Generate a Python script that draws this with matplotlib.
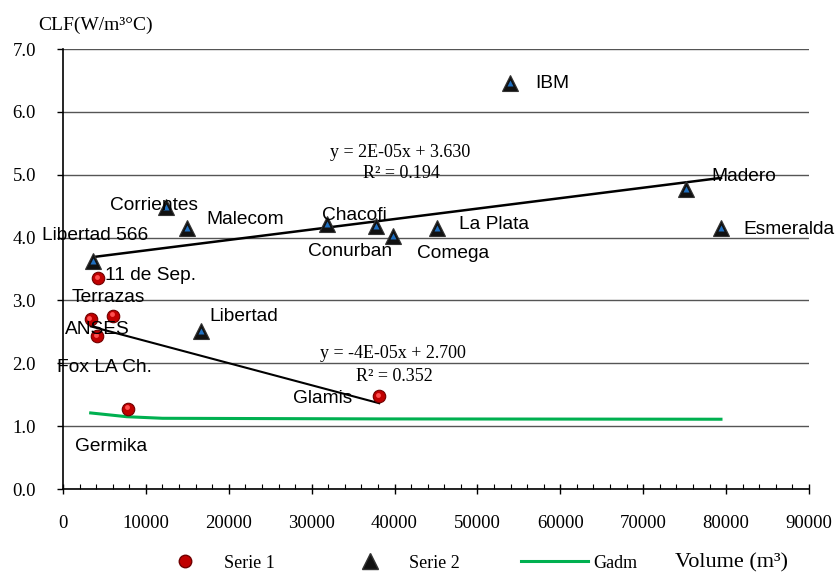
import numpy as np
import matplotlib
matplotlib.use("Agg")
import matplotlib.pyplot as plt
import matplotlib.transforms as mtransforms
from matplotlib.lines import Line2D
from matplotlib.ticker import MultipleLocator, FormatStrFormatter

plt.rcParams['font.family'] = ['Liberation Serif', 'DejaVu Serif']

# Serie 1 (red spheres)
s1_x = [4260, 6070, 3340, 4140, 7880, 38150]
s1_y = [3.35, 2.75, 2.70, 2.43, 1.28, 1.476]

# Serie 2 (triangles)
s2_x = [3660, 12425, 14920, 16610, 31850, 37820, 39870, 45130, 53920, 75160, 79380]
s2_y = [3.63, 4.48, 4.16, 2.52, 4.22, 4.19, 4.02, 4.15, 6.465, 4.77, 4.15]

# Gadm curve
gadm_x = [3340, 7700, 12000, 38150, 79380]
gadm_y = [1.21, 1.15, 1.125, 1.115, 1.11]

# building names
names = ["Libertad 566", "11 de Sep.", "Terrazas", "ANSES", "Fox LA Ch.", "Germika",
         "Glamis", "Libertad", "Corrientes", "Malecom", "Chacofi", "Conurban",
         "Comega", "La Plata", "Madero", "Esmeralda", "IBM"]
name_x = [-2530, 5070, 1050, 240, -690, 1450, 27710, 17650, 5610, 17340, 31260,
          29550, 42680, 47810, 78180, 82110, 56940]
name_y = [4.07, 3.43, 3.08, 2.57, 1.97, 0.71, 1.465, 2.78, 4.545, 4.32, 4.39,
          3.81, 3.78, 4.235, 5.006, 4.165, 6.48]

eq_text = ["y = 2E-05x + 3.630", "R² = 0.194", "y = -4E-05x + 2.700", "R² = 0.352"]
eq_x = [40660, 40780, 39830, 39950]
eq_y = [5.39, 5.05, 2.18, 1.825]

fig = plt.figure(figsize=(8.39, 5.75), dpi=100)
ax = fig.add_axes([63/839, 86/575, 746/839, 440/575])

ax.set_xlim(0, 90000)
ax.set_ylim(0, 7)
ax.xaxis.set_major_locator(MultipleLocator(10000))
ax.xaxis.set_minor_locator(MultipleLocator(2000))
ax.yaxis.set_major_locator(MultipleLocator(1))
ax.yaxis.set_major_formatter(FormatStrFormatter('%.1f'))
ax.grid(axis='y', color='#555555', lw=1.0, zorder=0)
ax.set_axisbelow(True)
for s in ['top', 'right']:
    ax.spines[s].set_visible(False)
ax.spines['left'].set_linewidth(1.2)
ax.spines['bottom'].set_linewidth(1.2)
ax.tick_params(axis='x', which='major', direction='inout', length=7.5, width=1, labelsize=13.5, pad=15)
ax.tick_params(axis='x', which='minor', direction='in', length=3.6, width=0.8)
ax.tick_params(axis='y', which='major', direction='out', length=4.5, width=1, labelsize=13.5, pad=15)

# trend lines
c1 = np.polyfit(s1_x, s1_y, 1)
t1 = np.array([min(s1_x), max(s1_x)])
ax.plot(t1, np.polyval(c1, t1), color='black', lw=1.5, zorder=3)
c2 = np.polyfit(s2_x, s2_y, 1)
t2 = np.array([min(s2_x), max(s2_x)])
ax.plot(t2, np.polyval(c2, t2), color='black', lw=1.8, zorder=3)

# Gadm
ax.plot(gadm_x, gadm_y, color='#00b050', lw=2.2, zorder=3)

# Serie 1 markers
ax.plot(s1_x, s1_y, 'o', ms=9, mfc='#c00000', mec='#700000', mew=0.8, zorder=4)
hl = mtransforms.offset_copy(ax.transData, fig=fig, x=-1.0, y=1.2, units='points')
ax.plot(s1_x, s1_y, 'o', ms=3.5, mfc='#ff5050', mec='none', transform=hl, zorder=5)

# Serie 2 markers
ax.plot(s2_x, s2_y, '^', ms=11, mfc='#111111', mec='#333333', mew=0.8, zorder=4)
ax.plot(s2_x, s2_y, '^', ms=4, mfc='#1f6fc0', mec='none', zorder=5)

for t, x, y in zip(names, name_x, name_y):
    ax.text(x, y, t, family=['Liberation Sans', 'DejaVu Sans'], fontsize=13.8,
            ha='left', va='center_baseline', zorder=6, clip_on=False)

for t, x, y in zip(eq_text, eq_x, eq_y):
    ax.text(x, y, t, fontsize=13, ha='center', va='center_baseline', zorder=6)

fig.text(38/839, 1 - 23/575, 'CLF(W/m³°C)', fontsize=14, va='center_baseline')
fig.text(675/839, 1 - 560/575, 'Volume (m³)', fontsize=16, va='center_baseline')

h1 = Line2D([], [], ls='none', marker='o', ms=9, mfc='#c00000', mec='#700000')
h2 = Line2D([], [], ls='none', marker='^', ms=11, mfc='#111111', mec='#333333')
h3 = Line2D([], [], color='#00b050', lw=2.2)
fig.legend([h1, h2, h3], ['Serie 1', 'Serie 2', 'Gadm'], loc='center left',
           bbox_to_anchor=(152/839, 1 - 563/575), ncol=3, frameon=False,
           fontsize=13, handlelength=3.7, handletextpad=0.3, columnspacing=3.4,
           borderpad=0, borderaxespad=0)

fig.savefig('out.png', dpi=100)
